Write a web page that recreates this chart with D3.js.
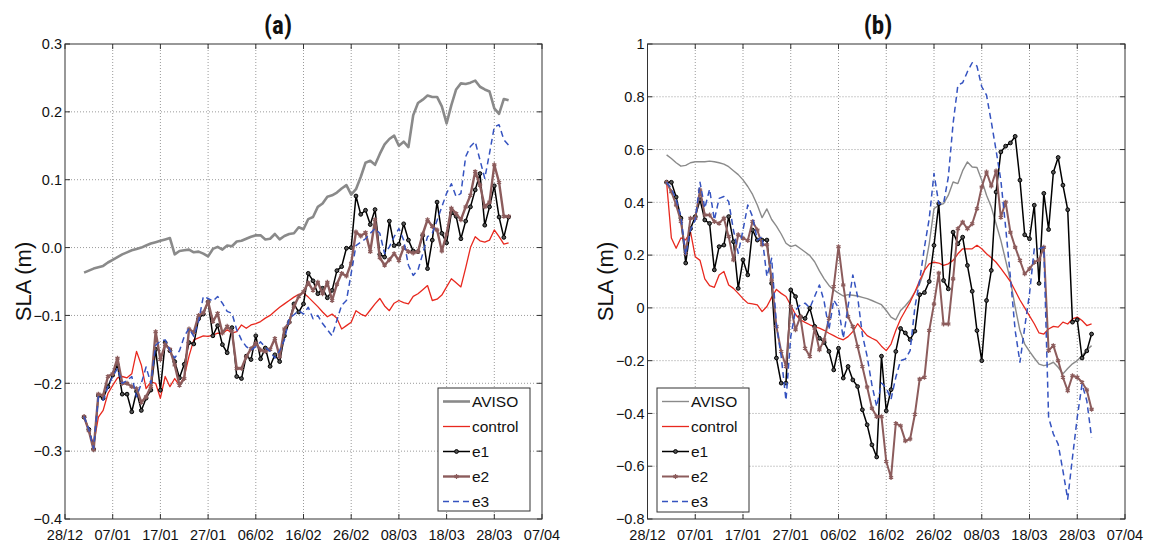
<!DOCTYPE html>
<html><head><meta charset="utf-8">
<script src="https://cdn.jsdelivr.net/npm/d3@7"></script>
<style>
body{margin:0;background:#fff;}
text{font-family:"Liberation Sans",Arial,Helvetica,sans-serif;fill:#111;}
</style></head>
<body><svg id="chart" width="1151" height="545"></svg>
<script>
// ---------------- DATA ----------------
// days counted from 28/12 (day 0); daily series from 01/01 (day 4) to 31/03 (day 93)
const firstDay = 4;
const xTickLabels = ["28/12","07/01","17/01","27/01","06/02","16/02","26/02","08/03","18/03","28/03","07/04"];
const xTickDays = [0,10,20,30,40,50,60,70,80,90,100];
const yTicksA = [-0.4,-0.3,-0.2,-0.1,0,0.1,0.2,0.3];
const yTicksB = [-0.8,-0.6,-0.4,-0.2,0,0.2,0.4,0.6,0.8,1];
const seriesNames = ["AVISO","control","e1","e2","e3"];

const avisoA = [
-0.037,-0.034,-0.031,-0.029,-0.027,-0.022,-0.018,-0.014,-0.010,-0.007,
-0.004,-0.002,0.000,0.003,0.006,0.008,0.010,0.012,0.014,-0.010,
-0.005,-0.004,-0.003,-0.007,-0.006,-0.009,-0.013,-0.002,0.001,-0.003,
0.003,0.002,0.009,0.010,0.013,0.016,0.018,0.018,0.012,0.013,
0.020,0.012,0.017,0.020,0.021,0.030,0.027,0.042,0.045,0.060,
0.065,0.075,0.077,0.081,0.087,0.092,0.078,0.086,0.104,0.125,
0.128,0.122,0.138,0.152,0.160,0.165,0.150,0.156,0.148,0.195,
0.213,0.218,0.224,0.222,0.222,0.208,0.183,0.210,0.233,0.242,
0.241,0.243,0.246,0.237,0.233,0.230,0.205,0.197,0.219,0.217];
const controlA = [
-0.250,-0.270,-0.290,-0.250,-0.240,-0.215,-0.203,-0.192,-0.190,-0.192,
-0.186,-0.153,-0.173,-0.208,-0.198,-0.200,-0.222,-0.190,-0.205,-0.193,
-0.203,-0.190,-0.160,-0.136,-0.133,-0.130,-0.131,-0.129,-0.126,-0.127,
-0.121,-0.126,-0.124,-0.114,-0.119,-0.114,-0.112,-0.109,-0.104,-0.100,
-0.094,-0.088,-0.083,-0.078,-0.073,-0.069,-0.067,-0.073,-0.080,-0.087,
-0.095,-0.102,-0.098,-0.104,-0.120,-0.115,-0.110,-0.093,-0.098,-0.101,
-0.092,-0.083,-0.075,-0.086,-0.093,-0.082,-0.078,-0.081,-0.083,-0.072,
-0.068,-0.062,-0.056,-0.078,-0.076,-0.070,-0.058,-0.046,-0.052,-0.058,
-0.030,0.000,0.016,0.010,0.008,0.011,0.026,0.016,0.005,0.007];
const e1A = [
-0.250,-0.268,-0.297,-0.218,-0.222,-0.205,-0.188,-0.173,-0.216,-0.216,
-0.242,-0.212,-0.240,-0.222,-0.210,-0.150,-0.210,-0.140,-0.152,-0.168,
-0.192,-0.172,-0.140,-0.142,-0.105,-0.098,-0.080,-0.130,-0.115,-0.143,
-0.155,-0.118,-0.190,-0.193,-0.160,-0.165,-0.130,-0.164,-0.148,-0.175,
-0.158,-0.168,-0.130,-0.110,-0.083,-0.095,-0.083,-0.038,-0.049,-0.068,
-0.060,-0.074,-0.063,-0.034,-0.028,-0.001,0.000,0.076,0.049,0.055,
0.034,0.056,-0.010,-0.014,0.039,0.003,0.005,0.035,0.011,-0.005,
-0.006,0.018,-0.031,0.011,0.067,0.021,0.007,0.051,0.046,0.013,
0.039,0.060,0.085,0.109,0.033,0.060,0.091,0.045,0.015,0.045];
const e2A = [
-0.249,-0.270,-0.298,-0.216,-0.218,-0.190,-0.186,-0.163,-0.200,-0.200,
-0.205,-0.208,-0.228,-0.220,-0.205,-0.124,-0.165,-0.143,-0.150,-0.173,
-0.203,-0.193,-0.120,-0.125,-0.100,-0.096,-0.080,-0.109,-0.097,-0.126,
-0.116,-0.124,-0.178,-0.178,-0.161,-0.149,-0.141,-0.151,-0.153,-0.150,
-0.134,-0.161,-0.120,-0.110,-0.087,-0.072,-0.065,-0.052,-0.063,-0.051,
-0.068,-0.051,-0.078,-0.054,-0.038,-0.042,-0.023,0.023,0.017,0.022,
-0.006,0.041,-0.015,-0.026,-0.018,-0.009,-0.019,0.000,-0.006,-0.008,
-0.006,0.020,0.041,0.031,0.026,-0.005,0.020,0.058,0.050,0.041,
0.060,0.077,0.112,0.092,0.060,0.067,0.122,0.096,0.046,0.046];
const e3A = [
-0.249,-0.268,-0.296,-0.220,-0.225,-0.205,-0.190,-0.178,-0.200,-0.196,
-0.190,-0.220,-0.200,-0.176,-0.200,-0.144,-0.138,-0.136,-0.151,-0.163,
-0.152,-0.131,-0.119,-0.131,-0.109,-0.072,-0.075,-0.079,-0.072,-0.082,
-0.094,-0.097,-0.121,-0.136,-0.146,-0.151,-0.146,-0.139,-0.147,-0.153,
-0.163,-0.152,-0.136,-0.104,-0.099,-0.093,-0.098,-0.088,-0.105,-0.100,
-0.112,-0.121,-0.130,-0.107,-0.085,-0.078,-0.038,0.003,0.008,0.013,
0.021,0.028,0.021,-0.009,0.001,0.016,0.028,0.011,-0.026,-0.041,
-0.033,-0.009,0.016,0.021,0.040,0.060,0.080,0.094,0.075,0.080,
0.134,0.149,0.156,0.129,0.102,0.139,0.178,0.181,0.159,0.151];

const avisoB = [
0.580,0.566,0.550,0.537,0.540,0.550,0.554,0.554,0.554,0.556,
0.554,0.550,0.545,0.535,0.520,0.505,0.485,0.460,0.430,0.390,
0.342,0.375,0.335,0.310,0.280,0.245,0.232,0.238,0.225,0.212,
0.198,0.175,0.140,0.110,0.085,0.068,0.056,0.045,0.050,0.048,
0.045,0.040,0.035,0.028,0.020,0.012,-0.010,-0.035,-0.045,-0.010,
0.008,0.030,0.060,0.091,0.142,0.243,0.376,0.389,0.395,0.427,
0.477,0.471,0.520,0.553,0.534,0.532,0.484,0.427,0.382,0.319,
0.256,0.180,0.104,0.003,-0.086,-0.137,-0.165,-0.190,-0.213,-0.219,
-0.215,-0.206,-0.225,-0.250,-0.230,-0.212,-0.200,-0.180,-0.160,-0.143];
const controlB = [
0.476,0.265,0.226,0.265,0.258,0.289,0.194,0.180,0.110,0.084,
0.078,0.125,0.138,0.087,0.074,0.055,0.035,0.018,0.015,0.011,
-0.014,0.005,0.040,0.070,0.055,0.043,0.010,-0.025,-0.045,-0.055,
-0.064,-0.071,-0.077,-0.085,-0.096,-0.105,-0.115,-0.121,-0.109,-0.090,
-0.060,-0.083,-0.105,-0.115,-0.124,-0.145,-0.162,-0.137,-0.086,-0.042,
-0.010,0.022,0.060,0.104,0.142,0.167,0.173,0.170,0.161,0.167,
0.180,0.205,0.224,0.224,0.224,0.237,0.224,0.205,0.190,0.173,
0.150,0.125,0.100,0.065,0.030,0.000,-0.030,-0.060,-0.095,-0.099,
-0.080,-0.070,-0.073,-0.054,-0.061,-0.042,-0.035,-0.048,-0.067,-0.061];
const e1B = [
0.476,0.476,0.420,0.340,0.170,0.300,0.346,0.410,0.333,0.320,
0.144,0.232,0.238,0.346,0.251,0.074,0.182,0.125,0.295,0.257,
0.257,0.257,0.093,-0.190,-0.285,-0.285,0.068,0.043,-0.033,-0.040,
-0.001,-0.070,-0.115,-0.131,-0.165,-0.235,-0.153,-0.266,-0.222,-0.273,
-0.298,-0.386,-0.443,-0.519,-0.565,-0.183,-0.390,-0.310,-0.165,-0.078,
-0.095,-0.120,-0.088,0.050,0.058,0.100,0.237,0.395,0.104,0.072,
0.287,0.243,0.268,0.161,0.063,-0.086,-0.200,0.028,0.142,0.439,
0.591,0.613,0.625,0.650,0.484,0.277,0.262,0.389,0.093,0.434,
0.297,0.514,0.570,0.465,0.372,-0.054,-0.045,-0.190,-0.163,-0.099];
const e2B = [
0.476,0.440,0.390,0.327,0.207,0.340,0.340,0.447,0.352,0.352,
0.327,0.320,0.340,0.270,0.182,0.277,0.264,0.255,0.327,0.295,
0.239,0.239,0.106,-0.071,-0.165,-0.222,0.005,-0.083,-0.033,-0.153,
-0.184,-0.077,-0.159,-0.121,-0.040,0.081,0.232,0.087,-0.033,-0.071,
-0.146,-0.222,-0.300,-0.380,-0.412,-0.412,-0.582,-0.643,-0.438,-0.447,
-0.504,-0.497,-0.403,-0.270,-0.263,-0.086,0.015,0.132,-0.061,-0.061,
0.110,0.300,0.325,0.300,0.319,0.376,0.458,0.515,0.462,0.519,
0.343,0.401,0.287,0.230,0.180,0.129,0.148,0.173,0.182,0.230,
-0.162,-0.143,-0.200,-0.263,-0.314,-0.257,-0.263,-0.282,-0.311,-0.384];
const e3B = [
0.476,0.453,0.410,0.346,0.200,0.295,0.333,0.476,0.378,0.450,
0.333,0.415,0.422,0.403,0.295,0.207,0.295,0.390,0.346,0.257,
0.270,0.119,0.188,-0.064,-0.184,-0.350,-0.109,-0.008,0.011,0.018,
0.000,0.043,0.087,0.024,-0.083,0.030,0.000,-0.115,0.005,0.125,
0.043,-0.102,-0.184,-0.292,-0.374,-0.285,-0.304,-0.346,-0.263,-0.200,
-0.194,-0.162,0.003,0.104,0.230,0.338,0.509,0.395,0.395,0.496,
0.699,0.844,0.853,0.895,0.929,0.916,0.838,0.806,0.705,0.597,
0.484,0.306,0.116,-0.086,-0.206,-0.073,0.053,0.224,0.224,0.230,
-0.415,-0.478,-0.516,-0.617,-0.725,-0.567,-0.415,-0.289,-0.352,-0.491];

// ---------------- DRAW ----------------
const svg = d3.select("#chart");
svg.append("rect").attr("width",1151).attr("height",545).attr("fill","#fff");

const panels = [
  {key:"a", title:"(a)", titleX:278, left:65, right:542, top:44, bottom:519,
   yDomain:[-0.4,0.3], yTicks:yTicksA, yFmt:d=>d3.format(".1f")(d),
   ylabX:23, legend:{x:438,y:388,w:92,h:123},
   data:[avisoA,controlA,e1A,e2A,e3A], avisoW:2.6, e2W:2.4},
  {key:"b", title:"(b)", titleX:878, left:647.5, right:1125, top:44, bottom:519,
   yDomain:[-0.8,1], yTicks:yTicksB, yFmt:d=>d===0?"0":(d===1?"1":d3.format(".1f")(d)),
   ylabX:605, legend:{x:657,y:388,w:92,h:124},
   data:[avisoB,controlB,e1B,e2B,e3B], avisoW:1.4, e2W:2}
];

const styles = [
  {color:"#8a8a8a", dash:null},
  {color:"#e8281e", dash:null, w:1.3},
  {color:"#000000", dash:null, w:1.5, marker:"circle"},
  {color:"#8c5c5c", dash:null, marker:"star"},
  {color:"#3553c0", dash:"6,4", w:1.5}
];

panels.forEach(p=>{
  const g = svg.append("g");
  const x = d3.scaleLinear().domain([0,100]).range([p.left,p.right]);
  const y = d3.scaleLinear().domain(p.yDomain).range([p.bottom,p.top]);

  // grid
  g.selectAll(".vg").data(xTickDays.slice(1,-1)).enter().append("line")
    .attr("x1",d=>x(d)).attr("x2",d=>x(d)).attr("y1",p.top).attr("y2",p.bottom)
    .attr("stroke","#9a9a9a").attr("stroke-width",1).attr("stroke-dasharray","1,2");
  g.selectAll(".hg").data(p.yTicks.slice(1,-1)).enter().append("line")
    .attr("y1",d=>y(d)).attr("y2",d=>y(d)).attr("x1",p.left).attr("x2",p.right)
    .attr("stroke","#9a9a9a").attr("stroke-width",1).attr("stroke-dasharray","1,2");

  // series
  const days = d3.range(firstDay, firstDay + p.data[0].length);
  p.data.forEach((vals,i)=>{
    const st = styles[i];
    const pts = vals.map((v,k)=>[days[k],v]);
    const line = d3.line().x(d=>x(d[0])).y(d=>y(d[1]));
    const w = i===0 ? p.avisoW : (i===3 ? p.e2W : st.w);
    g.append("path").attr("d",line(pts)).attr("fill","none")
      .attr("stroke",st.color).attr("stroke-width",w)
      .attr("stroke-linejoin","round")
      .attr("stroke-dasharray",st.dash);
    if(st.marker==="circle"){
      g.selectAll(null).data(pts).enter().append("circle")
        .attr("cx",d=>x(d[0])).attr("cy",d=>y(d[1])).attr("r",1.9)
        .attr("fill","#555").attr("stroke","#000").attr("stroke-width",1);
    } else if(st.marker==="star"){
      const sym = d3.symbol().type(d3.symbolAsterisk).size(16);
      g.selectAll(null).data(pts).enter().append("path")
        .attr("d",sym).attr("transform",d=>`translate(${x(d[0])},${y(d[1])})`)
        .attr("fill","none").attr("stroke",st.color).attr("stroke-width",1.3);
    }
  });

  // frame
  g.append("rect").attr("x",p.left).attr("y",p.top)
    .attr("width",p.right-p.left).attr("height",p.bottom-p.top)
    .attr("fill","none").attr("stroke","#333").attr("stroke-width",1);

  // ticks (inward, all four sides)
  const tl = 5;
  xTickDays.forEach(d=>{
    g.append("line").attr("x1",x(d)).attr("x2",x(d)).attr("y1",p.bottom).attr("y2",p.bottom-tl).attr("stroke","#333");
    g.append("line").attr("x1",x(d)).attr("x2",x(d)).attr("y1",p.top).attr("y2",p.top+tl).attr("stroke","#333");
  });
  p.yTicks.forEach(d=>{
    g.append("line").attr("y1",y(d)).attr("y2",y(d)).attr("x1",p.left).attr("x2",p.left+tl).attr("stroke","#333");
    g.append("line").attr("y1",y(d)).attr("y2",y(d)).attr("x1",p.right).attr("x2",p.right-tl).attr("stroke","#333");
  });

  // tick labels
  g.selectAll(".xl").data(xTickDays).enter().append("text")
    .attr("x",d=>x(d)).attr("y",p.bottom+21).attr("text-anchor","middle")
    .attr("font-size",14.5).text((d,i)=>xTickLabels[i]);
  g.selectAll(".yl").data(p.yTicks).enter().append("text")
    .attr("x",p.left-3).attr("y",d=>y(d)).attr("dy","0.36em").attr("text-anchor","end")
    .attr("font-size",14.5).text(d=>p.yFmt(d));

  // axis label & title
  g.append("text").attr("transform",`translate(${p.ylabX},${(p.top+p.bottom)/2}) rotate(-90)`)
    .attr("text-anchor","middle").attr("dy","0.35em").attr("font-size",22).text("SLA (m)");
  g.append("text").attr("x",p.titleX).attr("y",34).attr("text-anchor","middle")
    .attr("font-size",25).attr("font-weight","bold")
    .style("font-family","'Liberation Sans Narrow','Roboto Condensed','Liberation Sans',sans-serif")
    .text(p.title);

  // legend
  const L = p.legend;
  const lg = g.append("g");
  lg.append("rect").attr("x",L.x).attr("y",L.y).attr("width",L.w).attr("height",L.h)
    .attr("fill","#fff").attr("stroke","#333").attr("stroke-width",1);
  seriesNames.forEach((name,i)=>{
    const st = styles[i];
    const yy = L.y + 13.5 + i*25;
    const x1 = L.x + 5, x2 = L.x + 32;
    const w = i===0 ? p.avisoW : (i===3 ? p.e2W : st.w);
    lg.append("line").attr("x1",x1).attr("x2",x2).attr("y1",yy).attr("y2",yy)
      .attr("stroke",st.color).attr("stroke-width",w).attr("stroke-dasharray",st.dash);
    if(st.marker==="circle"){
      lg.append("circle").attr("cx",(x1+x2)/2).attr("cy",yy).attr("r",1.9)
        .attr("fill","#555").attr("stroke","#000");
    } else if(st.marker==="star"){
      lg.append("path").attr("d",d3.symbol().type(d3.symbolAsterisk).size(16)())
        .attr("transform",`translate(${(x1+x2)/2},${yy})`).attr("fill","none")
        .attr("stroke",st.color).attr("stroke-width",1.3);
    }
    lg.append("text").attr("x",x2+2).attr("y",yy).attr("dy","0.36em")
      .attr("font-size",15.5).text(name);
  });
});
</script></body></html>
